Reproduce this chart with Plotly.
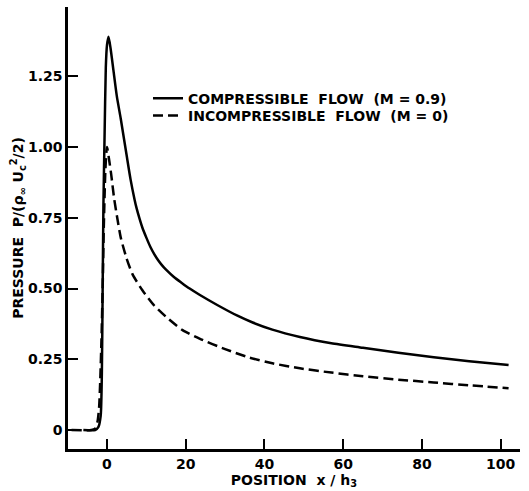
import plotly.graph_objects as go

# Compressible flow (M = 0.9)
comp_x = [-6, -3, -2.2, -1.6, -1.3, -1.1, -0.9, -0.6, -0.3, 0.0, 0.4, 0.9, 1.65, 2.5, 3.5, 5, 6, 7, 7.5,
          8.25, 9, 10, 11, 12, 13, 14, 15, 17, 19, 21, 23.5, 28, 33, 37, 42, 49, 57, 65, 74, 83, 92, 102]
comp_y = [0, 0, 0.01, 0.05, 0.2, 0.5, 0.8, 1.05, 1.28, 1.36, 1.39, 1.35, 1.27, 1.18, 1.10, 0.97, 0.885, 0.815, 0.785,
          0.748, 0.715, 0.68, 0.648, 0.622, 0.600, 0.582, 0.567, 0.541, 0.52, 0.50, 0.478, 0.442, 0.405, 0.38,
          0.355, 0.329, 0.307, 0.291, 0.273, 0.257, 0.243, 0.23]

# Incompressible flow (M = 0)
inc_x = [-9, -4, -3, -2.4, -2, -1.7, -1.4, -1.1, -0.8, -0.4, 0, 0.6, 1.1, 1.8, 2.7, 3.5, 4.9, 6.5, 9,
         12, 15, 19.2, 23.5, 30, 36.2, 42, 49, 57, 65, 74, 83, 92, 102]
inc_y = [0, 0, 0.005, 0.03, 0.08, 0.18, 0.32, 0.5, 0.72, 0.92, 1.0, 0.95, 0.9, 0.82, 0.742, 0.68, 0.61, 0.55, 0.494,
         0.44, 0.40, 0.353, 0.323, 0.286, 0.256, 0.236, 0.218, 0.203, 0.19, 0.178, 0.168, 0.158, 0.148]

x_ticks = [0, 20, 40, 60, 80, 100]
y_ticks = [0, 0.25, 0.5, 0.75, 1.0, 1.25]
y_tick_text = ["0", "0.25", "0.50", "0.75", "1.00", "1.25"]

FONT = dict(family="DejaVu Sans", size=14, color="black", weight="bold")

fig = go.Figure()
fig.add_trace(go.Scatter(x=comp_x, y=comp_y, mode="lines",
                         line=dict(color="black", width=2.5, shape="spline", smoothing=0.6),
                         name="COMPRESSIBLE  FLOW  (M = 0.9)", legend="legend"))
fig.add_trace(go.Scatter(x=inc_x, y=inc_y, mode="lines",
                         line=dict(color="black", width=2.5, dash="10px,5px",
                                   shape="spline", smoothing=0.6),
                         name="INCOMPRESSIBLE  FLOW  (M = 0)", legend="legend2"))

leg_common = dict(xanchor="left", yanchor="top", bgcolor="rgba(0,0,0,0)",
                  font=FONT, itemwidth=30)

fig.update_layout(
    width=529, height=491,
    margin=dict(l=68, r=9, t=7, b=42),
    paper_bgcolor="white", plot_bgcolor="white",
    font=FONT,
    showlegend=True,
    legend=dict(x=0.177, y=0.829, **leg_common),
    legend2=dict(x=0.177, y=0.790, **leg_common),
    xaxis=dict(range=[-9.9, 104.9], tickvals=x_ticks, ticks="inside", ticklen=10,
               tickwidth=2, tickcolor="black", showline=True, linecolor="black",
               linewidth=2.5, showgrid=False, zeroline=False,
               title=dict(text="POSITION  x / h<sub>3</sub>", standoff=2, font=FONT)),
    yaxis=dict(range=[-0.067, 1.495], tickvals=y_ticks, ticktext=y_tick_text,
               ticks="inside", ticklen=10, tickwidth=2, tickcolor="black",
               showline=True, linecolor="black", linewidth=2.5, showgrid=False,
               zeroline=False,
               title=dict(text="PRESSURE  P/(ρ<sub>∞</sub> U<sub>c</sub><sup>2</sup>/2)",
                          standoff=1, font=FONT)),
)

fig.write_html("out.html")
